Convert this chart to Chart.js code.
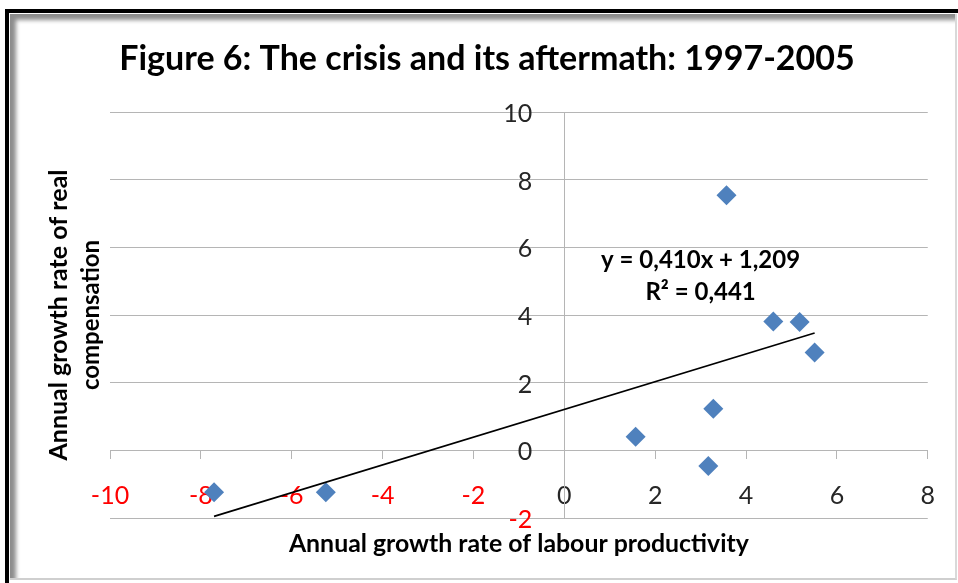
<!DOCTYPE html>
<html><head><meta charset="utf-8">
<script src="https://cdn.jsdelivr.net/npm/chart.js@4.4.1/dist/chart.umd.min.js"></script>
<style>
html,body{margin:0;padding:0;background:#fff;width:958px;height:583px;overflow:hidden;}
#outer{position:absolute;left:5px;top:9px;width:953px;height:574px;border-top:4px solid #000;border-left:4px solid #000;box-sizing:border-box;}
#inner{position:absolute;left:1px;top:1px;right:1px;bottom:3px;box-shadow: inset 9px 9px 4px -3px rgba(0,0,0,0.45);border-right:2px solid #d9d9d9;border-bottom:2px solid #cfcfcf;}
#wrap{position:absolute;left:0;top:0;width:958px;height:583px;}
</style></head>
<body>
<div id="outer"><div id="inner"></div></div>
<div id="wrap"><canvas id="c"></canvas></div>
<script>
// ---- data ----
const titleText = "Figure 6: The crisis and its aftermath: 1997-2005";
const xAxisTitle = "Annual growth rate of labour productivity";
const yAxisTitleLines = ["Annual growth rate of real", "compensation"];
const productivity = [-7.71, -5.25, 1.57, 3.17, 3.28, 3.57, 4.60, 5.18, 5.51];
const compensation = [-1.24, -1.24, 0.40, -0.46, 1.23, 7.54, 3.81, 3.79, 2.89];
const xTicks = [-10, -8, -6, -4, -2, 0, 2, 4, 6, 8];
const yTicks = [-2, 0, 2, 4, 6, 8, 10];
const trendSlope = 0.410;
const trendIntercept = 1.209;
const trendLabels = ["y = 0,410x + 1,209", "R\u00B2 = 0,441"];

// ---- derived tables ----
const points = productivity.map((x, i) => ({x: x, y: compensation[i]}));
const xMin = Math.min(...productivity), xMax = Math.max(...productivity);
const trendData = [xMin, xMax].map(x => ({x: x, y: trendSlope * x + trendIntercept}));

Chart.defaults.font.family = 'Lato';
const POS = '#262626', NEG = '#FF0000';

function drawFit(ctx, text, cx, baseline, font, maxW, rotate) {
  ctx.save();
  ctx.font = font;
  const w = ctx.measureText(text).width;
  const s = Math.min(1, maxW / w);
  ctx.translate(cx, baseline);
  if (rotate) ctx.rotate(-Math.PI / 2);
  ctx.scale(s, 1);
  ctx.textAlign = 'center';
  ctx.textBaseline = 'alphabetic';
  ctx.fillText(text, 0, 0);
  ctx.restore();
}

const textPlugin = {
  id: 'texts',
  afterDraw(chart) {
    const ctx = chart.ctx, a = chart.chartArea;
    const xs = chart.scales.x, ys = chart.scales.y;
    ctx.save();
    // y tick labels, placed left of the y axis (which crosses at x = 0)
    const axisX = xs.getPixelForValue(0);
    ctx.font = '25px Lato';
    ctx.textAlign = 'right';
    ctx.textBaseline = 'middle';
    ys.ticks.forEach(t => {
      ctx.fillStyle = t.value < 0 ? NEG : POS;
      ctx.fillText(String(t.value), axisX - 32, ys.getPixelForValue(t.value) + 2);
    });
    ctx.fillStyle = '#000';
    drawFit(ctx, titleText, 487, 70, 'bold 34px Lato', 741);
    const cx = (a.left + a.right) / 2;
    drawFit(ctx, xAxisTitle, cx, a.bottom + 34, 'bold 25px Lato', 460);
    const cy = (a.top + a.bottom) / 2;
    drawFit(ctx, yAxisTitleLines[0], 67, cy, 'bold 25px Lato', 292, true);
    drawFit(ctx, yAxisTitleLines[1], 99, cy, 'bold 25px Lato', 150, true);
    const lx = xs.getPixelForValue(3.0), ly = ys.getPixelForValue(5.4);
    drawFit(ctx, trendLabels[0], lx, ly, 'bold 24px Lato', 199);
    drawFit(ctx, trendLabels[1], lx, ly + 32, 'bold 24px Lato', 112);
    ctx.restore();
  }
};

const tickColor = c => (c.tick && c.tick.value < 0) ? NEG : POS;

new Chart(document.getElementById('c'), {
  type: 'scatter',
  data: {
    datasets: [
      {type: 'line', label: 'Linear trend', data: trendData, borderColor: '#000', borderWidth: 1.6,
       pointRadius: 0, fill: false, order: 0},
      {label: 'Countries', data: points, pointStyle: 'rectRot', pointRadius: 10, pointHoverRadius: 10,
       backgroundColor: '#4F81BD', borderColor: '#4F81BD', borderWidth: 0, order: 1}
    ]
  },
  options: {
    responsive: true, maintainAspectRatio: false, animation: false,
    layout: {padding: {left: 110, right: 28, top: 112, bottom: 65}},
    plugins: {legend: {display: false}, title: {display: false}, tooltip: {enabled: false}},
    scales: {
      x: {
        type: 'linear', position: {y: 0}, min: -10, max: 8,
        afterBuildTicks: s => { s.ticks = xTicks.map(v => ({value: v})); },
        grid: {drawOnChartArea: false, drawTicks: true, tickLength: 8, color: '#B5B5B5'},
        border: {display: true, color: '#B5B5B5', width: 1},
        ticks: {font: {size: 25}, color: tickColor, padding: 23, maxRotation: 0, autoSkip: false}
      },
      y: {
        type: 'linear', position: {x: 0}, min: -2, max: 10,
        afterBuildTicks: s => { s.ticks = yTicks.map(v => ({value: v})); },
        grid: {drawTicks: false, color: '#B5B5B5'},
        border: {display: true, color: '#B5B5B5', width: 1},
        ticks: {display: false}
      }
    }
  },
  plugins: [textPlugin]
});
</script>
</body></html>
